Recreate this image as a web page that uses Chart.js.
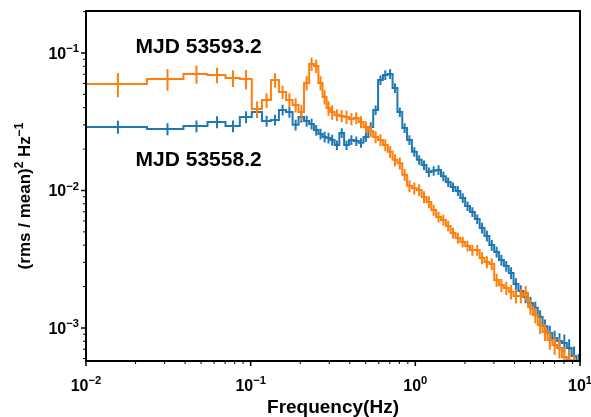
<!DOCTYPE html>
<html>
<head>
<meta charset="utf-8">
<script src="https://cdn.jsdelivr.net/npm/chart.js@4.4.1/dist/chart.umd.min.js"></script>
<style>
  html, body { margin: 0; padding: 0; background: #fff; }
</style>
</head>
<body>
<canvas id="psd" width="591" height="417"></canvas>
<script>
// bin centres (Hz): 1/64 Hz linear bins, then log rebinned
const freq = [
  0.015625, 0.03125, 0.046875, 0.0625, 0.078125, 0.09375, 0.109375, 0.125, 0.140625, 0.15625,
  0.171875, 0.1875, 0.203125, 0.21875, 0.234375, 0.25, 0.265625, 0.28125, 0.296875, 0.3125,
  0.334, 0.357, 0.382, 0.409, 0.438, 0.468, 0.501, 0.536, 0.574, 0.614,
  0.657, 0.703, 0.752, 0.805, 0.861, 0.921, 0.986, 1.055, 1.129, 1.208,
  1.292, 1.383, 1.480, 1.583, 1.694, 1.813, 1.940, 2.075, 2.221, 2.376,
  2.542, 2.720, 2.911, 3.115, 3.333, 3.566, 3.816, 4.083, 4.369, 4.674,
  5.002, 5.352, 5.726, 6.127, 6.556, 7.015, 7.506, 8.031, 8.593, 9.195, 9.839
];

// MJD 53593.2 (orange)
const powerA = [
  0.0595, 0.0647, 0.0704, 0.0692, 0.0658, 0.0647, 0.0392, 0.0455, 0.0636, 0.0520,
  0.0455, 0.0419, 0.0372, 0.0605, 0.0832, 0.0804, 0.0605, 0.0479, 0.0398, 0.0372,
  0.0354, 0.0348, 0.0342, 0.0331, 0.0337, 0.0315, 0.0290, 0.0271, 0.0245, 0.0233,
  0.0214, 0.0191, 0.0167, 0.0158, 0.0130, 0.0108, 0.0104, 0.0101, 0.00897, 0.00825,
  0.00721, 0.00642, 0.00610, 0.00552, 0.00491, 0.00451, 0.00422, 0.00395, 0.00369, 0.00369,
  0.00323, 0.00302, 0.00292, 0.00223, 0.00205, 0.00195, 0.00183, 0.00171, 0.00171, 0.00180,
  0.00142, 0.00124, 0.00105, 0.000935, 0.000818, 0.000752, 0.000715, 0.000615, 0.000585, 0.00053, 0.00047
];
const errA = [
  0.20, 0.18, 0.15, 0.13, 0.14, 0.16, 0.13, 0.12, 0.12, 0.11,
  0.12, 0.12, 0.13, 0.12, 0.11, 0.11, 0.12, 0.12, 0.12, 0.12,
  0.10, 0.10, 0.11, 0.10, 0.10, 0.10, 0.10, 0.10, 0.10, 0.10,
  0.10, 0.10, 0.10, 0.10, 0.10, 0.10, 0.10, 0.10, 0.10, 0.10,
  0.09, 0.09, 0.09, 0.09, 0.09, 0.09, 0.09, 0.09, 0.09, 0.09,
  0.10, 0.10, 0.10, 0.11, 0.11, 0.11, 0.12, 0.12, 0.12, 0.12,
  0.13, 0.13, 0.14, 0.14, 0.15, 0.15, 0.16, 0.17, 0.18, 0.20, 0.20
];

// MJD 53558.2 (blue)
const powerB = [
  0.0290, 0.0280, 0.0294, 0.0315, 0.0294, 0.0342, 0.0372, 0.0320, 0.0326, 0.0385,
  0.0372, 0.0300, 0.0342, 0.0320, 0.0305, 0.0275, 0.0258, 0.0245, 0.0241, 0.0233,
  0.0214, 0.0262, 0.0214, 0.0233, 0.0229, 0.0222, 0.0245, 0.0290, 0.0385, 0.0636,
  0.0692, 0.0704, 0.0557, 0.0372, 0.0285, 0.0233, 0.0191, 0.0167, 0.0153, 0.0136,
  0.0139, 0.0141, 0.0127, 0.0115, 0.0106, 0.00992, 0.00882, 0.00771, 0.00698, 0.00620,
  0.00534, 0.00467, 0.00401, 0.00357, 0.00312, 0.00282, 0.00251, 0.00209, 0.00186, 0.00168,
  0.00152, 0.00140, 0.00120, 0.00103, 0.000919, 0.000846, 0.000804, 0.000778, 0.000715, 0.000626, 0.00055
];
const errB = [
  0.11, 0.10, 0.10, 0.10, 0.10, 0.10, 0.09, 0.09, 0.09, 0.09,
  0.09, 0.09, 0.09, 0.09, 0.09, 0.09, 0.09, 0.09, 0.09, 0.09,
  0.08, 0.08, 0.08, 0.08, 0.08, 0.08, 0.08, 0.08, 0.08, 0.08,
  0.08, 0.08, 0.08, 0.08, 0.08, 0.08, 0.08, 0.08, 0.08, 0.08,
  0.08, 0.08, 0.08, 0.08, 0.08, 0.08, 0.08, 0.08, 0.08, 0.08,
  0.09, 0.09, 0.09, 0.09, 0.09, 0.09, 0.10, 0.10, 0.10, 0.10,
  0.11, 0.11, 0.12, 0.12, 0.13, 0.13, 0.14, 0.15, 0.16, 0.17, 0.18
];

const labelA = 'MJD 53593.2';
const labelB = 'MJD 53558.2';
const xTicks = [0.01, 0.1, 1, 10];
const xTickLabels = ['10^−2', '10^−1', '10^0', '10^1'];
const yTicks = [0.001, 0.01, 0.1];
const yTickLabels = ['10^−3', '10^−2', '10^−1'];

const ORANGE = '#ff7f0e';
const BLUE = '#1f77b4';
const FONT = '"Liberation Sans", Arial, sans-serif';

const series = [
  { power: powerA, err: errA, color: ORANGE },
  { power: powerB, err: errB, color: BLUE }
];

// step outline: each bin drawn across its edges (midpoints between centres)
function stepPoints(p) {
  const n = freq.length;
  const pts = freq.map((f, i) => {
    const lo = i === 0 ? f - (freq[1] - f) / 2 : (freq[i - 1] + f) / 2;
    return { x: lo, y: p[i] };
  });
  pts.push({ x: freq[n - 1] + (freq[n - 1] - freq[n - 2]) / 2, y: p[n - 1] });
  return pts;
}

function minorTicks(min, max) {
  const out = [];
  for (let d = Math.pow(10, Math.floor(Math.log10(min))); d < max; d *= 10) {
    for (let m = 2; m <= 9; m++) {
      const v = m * d;
      if (v > min && v < max) out.push(v);
    }
  }
  return out;
}

// '10^−2' -> base + superscript parts
function powParts(s) {
  const [b, e] = s.split('^');
  return [{ t: b }, { t: e, sup: true }];
}

function richWidth(ctx, parts, size) {
  let w = 0;
  parts.forEach(p => {
    ctx.font = 'bold ' + (p.sup ? size * 0.7 : size) + 'px ' + FONT;
    w += ctx.measureText(p.t).width;
  });
  return w;
}

// draw left-aligned at x, baseline y
function drawRich(ctx, parts, size, x, y) {
  ctx.textAlign = 'left';
  ctx.textBaseline = 'alphabetic';
  let w = 0;
  parts.forEach(p => {
    const fs = p.sup ? size * 0.7 : size;
    ctx.font = 'bold ' + fs + 'px ' + FONT;
    ctx.fillText(p.t, x + w, p.sup ? y - size * 0.42 : y);
    w += ctx.measureText(p.t).width;
  });
  return w;
}

const psdDecor = {
  id: 'psdDecor',
  afterDatasetDraw(chart, args) {
    const s = series[args.index];
    const { ctx, chartArea: a, scales: { x, y } } = chart;
    ctx.save();
    ctx.beginPath();
    ctx.rect(a.left, a.top, a.right - a.left, a.bottom - a.top);
    ctx.clip();
    ctx.strokeStyle = s.color;
    ctx.lineWidth = 2;
    ctx.beginPath();
    freq.forEach((f, i) => {
      const px = x.getPixelForValue(f);
      ctx.moveTo(px, y.getPixelForValue(s.power[i] * (1 + s.err[i])));
      ctx.lineTo(px, y.getPixelForValue(s.power[i] * (1 - s.err[i])));
    });
    ctx.stroke();
    ctx.restore();
  },
  afterDraw(chart) {
    const { ctx, chartArea: a, scales: { x, y } } = chart;
    ctx.save();
    ctx.strokeStyle = '#000';
    ctx.fillStyle = '#000';

    // ticks
    ctx.lineWidth = 1.5;
    ctx.beginPath();
    xTicks.forEach(v => { const p = x.getPixelForValue(v); ctx.moveTo(p, a.bottom); ctx.lineTo(p, a.bottom + 5); });
    yTicks.forEach(v => { const p = y.getPixelForValue(v); ctx.moveTo(a.left, p); ctx.lineTo(a.left - 5, p); });
    ctx.stroke();
    ctx.lineWidth = 1;
    ctx.beginPath();
    minorTicks(x.min, x.max).forEach(v => { const p = x.getPixelForValue(v); ctx.moveTo(p, a.bottom); ctx.lineTo(p, a.bottom + 3); });
    minorTicks(y.min, y.max).forEach(v => { const p = y.getPixelForValue(v); ctx.moveTo(a.left, p); ctx.lineTo(a.left - 3, p); });
    ctx.stroke();

    // frame
    ctx.lineWidth = 2;
    ctx.strokeRect(a.left, a.top, a.right - a.left, a.bottom - a.top);

    // tick labels
    const TS = 16;
    xTicks.forEach((v, i) => {
      const parts = powParts(xTickLabels[i]);
      const w = richWidth(ctx, parts, TS);
      drawRich(ctx, parts, TS, x.getPixelForValue(v) - w / 2, a.bottom + 30);
    });
    yTicks.forEach((v, i) => {
      const parts = powParts(yTickLabels[i]);
      const w = richWidth(ctx, parts, TS);
      drawRich(ctx, parts, TS, a.left - 7 - w, y.getPixelForValue(v) + 6);
    });

    // annotations
    ctx.font = 'bold 21px ' + FONT;
    ctx.textAlign = 'left';
    ctx.textBaseline = 'alphabetic';
    ctx.fillText(labelA, x.getPixelForValue(0.02), y.getPixelForValue(0.1));
    ctx.fillText(labelB, x.getPixelForValue(0.02), y.getPixelForValue(0.015));

    // x title
    ctx.font = 'bold 19px ' + FONT;
    ctx.textAlign = 'center';
    ctx.fillText('Frequency(Hz)', (a.left + a.right) / 2, 413);

    // y title
    const YS = 17;
    const parts = [{ t: '(rms / mean)' }, { t: '2', sup: true }, { t: ' Hz' }, { t: '−1', sup: true }];
    const w = richWidth(ctx, parts, YS);
    ctx.translate(30, 196);
    ctx.rotate(-Math.PI / 2);
    drawRich(ctx, parts, YS, -w / 2, 0);
    ctx.restore();
  }
};

new Chart(document.getElementById('psd').getContext('2d'), {
  type: 'line',
  data: {
    datasets: [
      { label: labelA, data: stepPoints(powerA), borderColor: ORANGE, borderWidth: 2, stepped: 'before', pointRadius: 0, fill: false },
      { label: labelB, data: stepPoints(powerB), borderColor: BLUE, borderWidth: 2, stepped: 'before', pointRadius: 0, fill: false }
    ]
  },
  options: {
    responsive: false,
    animation: false,
    devicePixelRatio: 1,
    layout: { padding: { top: 11, right: 11, left: 0, bottom: 0 } },
    plugins: { legend: { display: false }, tooltip: { enabled: false } },
    scales: {
      x: {
        type: 'logarithmic', min: 0.01, max: 10,
        afterBuildTicks: s => { s.ticks = xTicks.map(v => ({ value: v })); },
        afterFit: s => { s.height = 56; s.paddingLeft = 0; s.paddingRight = 0; },
        grid: { display: false, drawTicks: false },
        border: { display: false },
        ticks: { display: false }
      },
      y: {
        type: 'logarithmic', min: 0.000575, max: 0.202,
        afterBuildTicks: s => { s.ticks = yTicks.map(v => ({ value: v })); },
        afterFit: s => { s.width = 86; s.paddingTop = 0; s.paddingBottom = 0; },
        grid: { display: false, drawTicks: false },
        border: { display: false },
        ticks: { display: false }
      }
    }
  },
  plugins: [psdDecor]
});
</script>
</body>
</html>
